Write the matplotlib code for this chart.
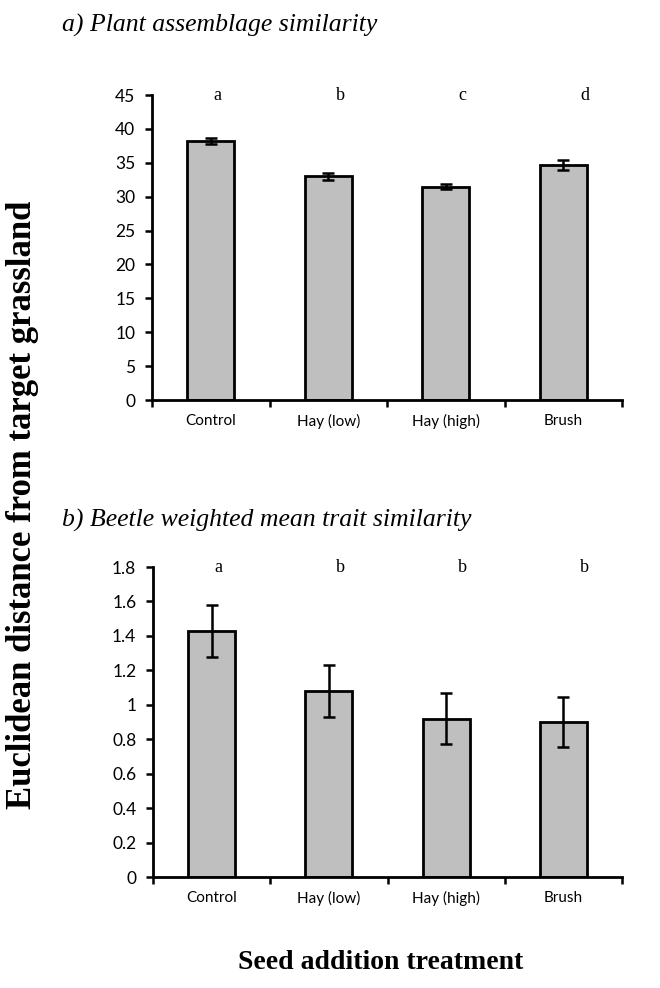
import matplotlib
matplotlib.use("Agg")
import matplotlib.pyplot as plt
import numpy as np

# Daten
categories = ["Control", "Hay (low)", "Hay (high)", "Brush"]

plant_means = [38.2, 33.0, 31.5, 34.7]
plant_err = [0.5, 0.5, 0.3, 0.7]
plant_letters = ["a", "b", "c", "d"]

beetle_means = [1.43, 1.08, 0.92, 0.90]
beetle_err = [0.15, 0.15, 0.15, 0.145]
beetle_letters = ["a", "b", "b", "b"]

sans = ["Lato", "DejaVu Sans"]
serif = ["Liberation Serif", "DejaVu Serif"]
bar_col = "#bfbfbf"

fig = plt.figure(figsize=(6.6, 9.88), dpi=100)

def draw_panel(ax, means, err, letters, ymax, ystep, fmt):
    x = np.arange(len(categories))
    ax.bar(x, means, width=0.4, color=bar_col, edgecolor="black", linewidth=2, zorder=2)
    ax.errorbar(x, means, yerr=err, fmt="none", ecolor="black", elinewidth=1.8,
                capsize=4.5, capthick=1.8, zorder=3)
    ax.set_xlim(-0.5, len(categories) - 0.5)
    ax.set_ylim(0, ymax)
    yt = np.arange(0, ymax + ystep / 2, ystep)
    ax.set_yticks(yt)
    ax.set_yticklabels([fmt(v) for v in yt], fontfamily=sans, fontsize=12.5)
    ax.set_xticks(x)
    ax.set_xticklabels(categories, fontfamily=sans, fontsize=11)
    ax.set_xticks(np.arange(-0.5, len(categories)), minor=True)
    ax.tick_params(axis="x", which="major", length=0, pad=10)
    ax.tick_params(axis="x", which="minor", length=5, width=1.8, direction="out")
    ax.tick_params(axis="y", length=5, width=1.8, direction="out", pad=7)
    for s in ["top", "right"]:
        ax.spines[s].set_visible(False)
    for s in ["left", "bottom"]:
        ax.spines[s].set_linewidth(2)
    # Signifikanzbuchstaben
    for i, lab in enumerate(letters):
        ax.text(i + 0.06 + 0.04 * i, ymax, lab, ha="center", va="center",
                fontfamily=serif, fontsize=13, clip_on=False)

def fmt_a(v):
    return f"{v:.0f}"

def fmt_b(v):
    return f"{v:g}"

ax1 = fig.add_axes([152 / 660, 1 - 400 / 988, 470 / 660, 305 / 988])
draw_panel(ax1, plant_means, plant_err, plant_letters, 45, 5, fmt_a)

ax2 = fig.add_axes([153 / 660, 1 - 877 / 988, 469 / 660, 310 / 988])
draw_panel(ax2, beetle_means, beetle_err, beetle_letters, 1.8, 0.2, fmt_b)

fig.text(62 / 660, 1 - 25 / 988, "a) Plant assemblage similarity", ha="left", va="center",
         fontfamily=serif, fontstyle="italic", fontsize=18.5)
fig.text(62 / 660, 1 - 520 / 988, "b) Beetle weighted mean trait similarity", ha="left",
         va="center", fontfamily=serif, fontstyle="italic", fontsize=18.5)

fig.text(23 / 660, 1 - 505 / 988, "Euclidean distance from target grassland", rotation=90,
         ha="center", va="center", fontfamily=serif, fontweight="bold", fontsize=25)
fig.text(381 / 660, 1 - 962 / 988, "Seed addition treatment", ha="center", va="center",
         fontfamily=serif, fontweight="bold", fontsize=20)

plt.savefig("out.png", dpi=100)
